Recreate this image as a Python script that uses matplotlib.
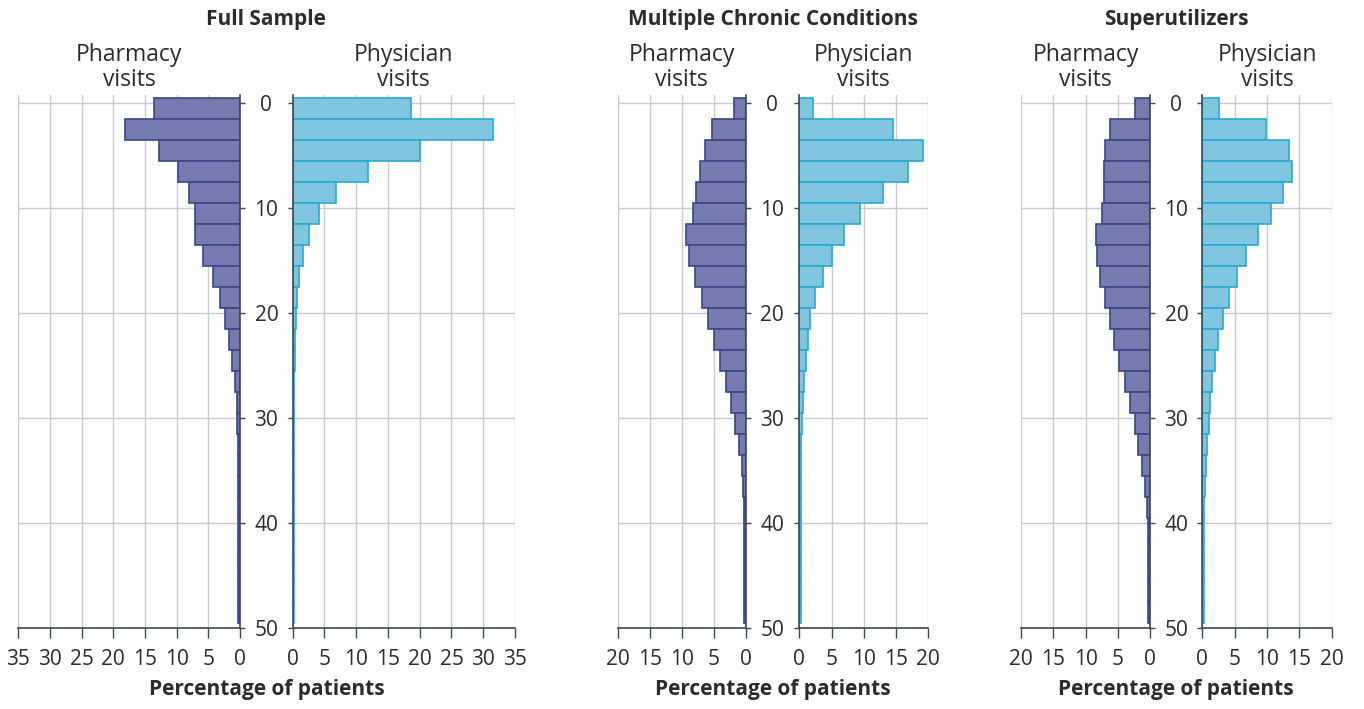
import matplotlib

matplotlib.use("Agg")
import matplotlib.pyplot as plt
import numpy as np

# visit-count bins (width 2), y positions are the bin centres
bin_centres = np.arange(0.5, 50, 2)

full_pharmacy = [13.6, 18.1, 12.8, 9.8, 8.0, 7.1, 7.1, 5.8, 4.3, 3.1, 2.3, 1.8, 1.2,
                 0.8, 0.55, 0.45, 0.3, 0.25, 0.25, 0.25, 0.25, 0.25, 0.25, 0.25, 0.25]
full_physician = [18.6, 31.5, 20.0, 11.8, 6.8, 4.1, 2.5, 1.7, 1.0, 0.6, 0.45, 0.35, 0.3,
                  0.25, 0.22, 0.2, 0.2, 0.2, 0.2, 0.2, 0.2, 0.2, 0.2, 0.2, 0.2]

mcc_pharmacy = [1.9, 5.2, 6.4, 7.2, 7.8, 8.2, 9.3, 8.9, 7.9, 6.9, 5.9, 4.9, 4.0,
                3.1, 2.3, 1.6, 1.05, 0.65, 0.35, 0.25, 0.25, 0.25, 0.25, 0.25, 0.25]
mcc_physician = [2.2, 14.6, 19.2, 16.9, 13.0, 9.4, 6.9, 5.0, 3.6, 2.5, 1.7, 1.4, 1.0,
                 0.7, 0.5, 0.35, 0.25, 0.2, 0.2, 0.2, 0.2, 0.2, 0.2, 0.2, 0.2]

super_pharmacy = [2.3, 6.2, 7.0, 7.1, 7.1, 7.5, 8.4, 8.2, 7.8, 7.0, 6.2, 5.6, 4.8,
                  3.9, 3.1, 2.4, 1.8, 1.2, 0.8, 0.4, 0.3, 0.25, 0.25, 0.25, 0.25]
super_physician = [2.6, 9.9, 13.4, 13.9, 12.5, 10.6, 8.6, 6.8, 5.4, 4.2, 3.2, 2.5, 1.9,
                   1.5, 1.2, 1.0, 0.7, 0.55, 0.4, 0.3, 0.25, 0.2, 0.2, 0.2, 0.2]

panel_titles = ["Full Sample", "Multiple Chronic Conditions", "Superutilizers"]
panel_xmax = [35, 20, 20]
y_ticks = [0, 10, 20, 30, 40, 50]

PHARM_FILL, PHARM_EDGE = "#757aaf", "#3a4689"
PHYS_FILL, PHYS_EDGE = "#80c6de", "#27a9d3"
GRID = "#c8cbd3"
SPINE = "#3e4756"
TEXT = "#2b2b2b"

plt.rcParams["font.family"] = ["Open Sans", "DejaVu Sans"]

W, H = 1364, 709
Y_BOT, Y_TOP = 628.3, 95.0

# pixel extents of each half-pyramid: (pharmacy left, pharmacy right, physician left, physician right)
panel_px = [
    (18.3, 240.0, 292.7, 515.0),
    (617.7, 745.7, 799.3, 928.3),
    (1021.0, 1150.0, 1202.3, 1331.7),
]

fig = plt.figure(figsize=(W / 100, H / 100), dpi=100)


def add_px_axes(x0, x1):
    return fig.add_axes([x0 / W, (H - Y_BOT) / H, (x1 - x0) / W, (Y_BOT - Y_TOP) / H])


def style(ax, xmax, side):
    ax.set_ylim(50, -0.8)
    ax.set_xticks(np.arange(0, xmax + 1, 5))
    ax.set_yticks(y_ticks)
    ax.grid(True, color=GRID, linewidth=1.0)
    ax.set_axisbelow(True)
    for s in ax.spines.values():
        s.set_visible(False)
    ax.spines["bottom"].set_visible(True)
    ax.spines["bottom"].set_color(SPINE)
    ax.spines["bottom"].set_linewidth(1.2)
    ax.spines[side].set_visible(True)
    ax.spines[side].set_color(SPINE)
    ax.spines[side].set_linewidth(1.2)
    ax.tick_params(axis="x", length=7, width=1.0, color=SPINE, labelsize=15,
                   labelcolor=TEXT, pad=8)


for i, (title, xmax) in enumerate(zip(panel_titles, panel_xmax)):
    pharm = [full_pharmacy, mcc_pharmacy, super_pharmacy][i]
    phys = [full_physician, mcc_physician, super_physician][i]
    px0, px1, qx0, qx1 = panel_px[i]

    ax_l = add_px_axes(px0, px1)
    ax_l.barh(bin_centres, pharm, height=2, color=PHARM_FILL, edgecolor=PHARM_EDGE,
              linewidth=1.2)
    ax_l.set_xlim(xmax, 0)
    style(ax_l, xmax, "right")
    ax_l.tick_params(axis="y", left=False, labelleft=False, right=True, labelright=True,
                     length=3.6, width=1.0, color=SPINE, labelsize=15,
                     labelcolor=TEXT, pad=15.4)
    for lab in ax_l.get_yticklabels():
        lab.set_horizontalalignment("center")

    ax_r = add_px_axes(qx0, qx1)
    ax_r.barh(bin_centres, phys, height=2, color=PHYS_FILL, edgecolor=PHYS_EDGE,
              linewidth=1.2)
    ax_r.set_xlim(0, xmax)
    style(ax_r, xmax, "left")
    ax_r.tick_params(axis="y", left=True, labelleft=False, length=3.6, width=1.0,
                     color=SPINE)

    mid = (px1 + qx0) / 2
    fig.text(mid / W, 1 - 20 / H, title, ha="center", va="center", fontsize=15,
             fontweight="bold", color=TEXT)
    fig.text((px0 + px1) / 2 / W, 1 - 67.5 / H, "Pharmacy\nvisits", ha="center",
             va="center", fontsize=16.5, color=TEXT, linespacing=1.1)
    fig.text((qx0 + qx1) / 2 / W, 1 - 67.5 / H, "Physician\nvisits", ha="center",
             va="center", fontsize=16.5, color=TEXT, linespacing=1.1)
    fig.text(mid / W, 1 - 690 / H, "Percentage of patients", ha="center",
             va="center", fontsize=15, fontweight="bold", color=TEXT)

fig.savefig("out.png", dpi=100)
